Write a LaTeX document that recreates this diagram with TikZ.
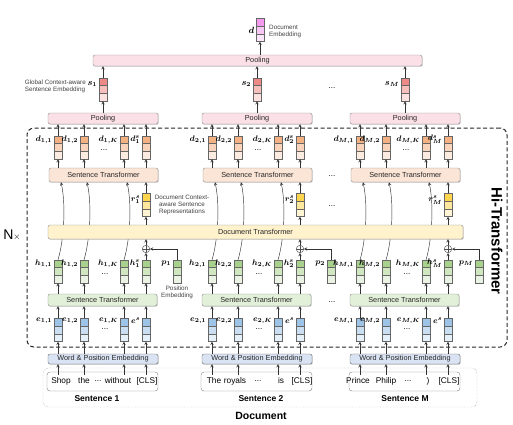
\documentclass[tikz,border=0pt]{standalone}
\usepackage{amsmath,amssymb}
\usepackage{fontspec}
\setmainfont{Liberation Sans}
\usepackage{tikz}
\usetikzlibrary{calc,shadows}
\definecolor{vecpink}{HTML}{F49AEE}
\definecolor{vecred}{HTML}{EE8A86}
\definecolor{vecorange}{HTML}{F4B183}
\definecolor{vecyellow}{HTML}{FFD54F}
\definecolor{vecgreen}{HTML}{A9D18E}
\definecolor{vecblue}{HTML}{9DC3E6}
\definecolor{poolbg}{HTML}{FBE0E8}
\definecolor{stbg}{HTML}{FBE5D6}
\definecolor{docbg}{HTML}{FFF2CC}
\definecolor{lstbg}{HTML}{E2F0D9}
\definecolor{wpebg}{HTML}{DAE3F3}

\begin{document}
\begin{tikzpicture}[x=1pt, y=-1pt,
    vec/.style={draw=black!60, line width=0.4pt, minimum width=7.5pt, minimum height=23pt, inner sep=0pt, fill=#1!25,
      path picture={
        \coordinate (nw) at (path picture bounding box.north west);
        \coordinate (ne) at (path picture bounding box.north east);
        \coordinate (sw) at (path picture bounding box.south west);
        \coordinate (se) at (path picture bounding box.south east);
        \fill[#1] (nw) rectangle ($(ne)!0.333!(se)$);
        \fill[#1!55] ($(nw)!0.333!(sw)$) rectangle ($(ne)!0.667!(se)$);
        \draw[black!60, line width=0.4pt] ($(nw)!0.333!(sw)$) -- ($(ne)!0.333!(se)$)
          ($(nw)!0.667!(sw)$) -- ($(ne)!0.667!(se)$);}},
    box/.style={draw=black!45, rounded corners=2pt, inner sep=0pt, text=black!85,
      font=\fontsize{7.3}{8}\selectfont,
      drop shadow={shadow xshift=0.7pt, shadow yshift=-0.7pt, fill=black!40, opacity=0.6}},
    lbl/.style={font=\footnotesize, inner sep=0.5pt},
    label distance=1.2pt,
    note/.style={font=\fontsize{6.3}{7}\selectfont, align=center, inner sep=0pt, text=black!75},
    word/.style={font=\fontsize{8.3}{9}\selectfont, inner sep=0pt},
    dotsnode/.style={font=\fontsize{8}{8}\selectfont, inner sep=0pt},
    arr/.style={->, >=stealth, line width=0.45pt, black!80},
    plusnode/.style={circle, draw=black!70, fill=white, line width=0.45pt, minimum size=7.5pt, inner sep=0pt,
      path picture={\draw[black!70, line width=0.45pt] (path picture bounding box.north) -- (path picture bounding box.south)
        (path picture bounding box.west) -- (path picture bounding box.east);}}
  ]
  \useasboundingbox (0,0) rectangle (513,424);

  % Hi-Transformer frame
  \node[draw=black!85, line width=1pt, dash pattern=on 4pt off 2.5pt, rounded corners=7pt,
    minimum width=480pt, minimum height=219pt] (hibox) at (267,237.5) {};
  \node[font=\bfseries\fontsize{15}{15}\selectfont, rotate=-90] (hilbl) at (497,241) {Hi-Transformer};
  \node[font=\fontsize{14}{14}\selectfont, inner sep=0pt] (nx) at (12,235) {N{\fontsize{9}{9}\selectfont$\times$}};

  % document embedding
  \node[box, fill=poolbg, minimum width=329pt, minimum height=11pt] (pool) at (257.5,60.5) {Pooling};
  \node[vec=vecpink, label={[lbl, font=\small]left:$\boldsymbol{d}$}] (dvec) at (260,30) {};
  \node[note, align=left, anchor=west] (docemb) at (269,31) {Document\\Embedding};
  \draw[arr] (pool.north -| dvec) -- (dvec.south);
  \node[note, align=left, anchor=east] (globnote) at (86,86) {Global Context-aware\\Sentence Embedding};
  \node[dotsnode] (sdots) at (332,88) {...};

  % one column per sentence
  \foreach \b/\dx/\m/\sx in {1/0/1/97, 2/154/2/261, 3/302/M/405}{
    \node[box, fill=poolbg, minimum width=110pt, minimum height=11pt] (pool-\b) at (103+\dx,118.5) {Pooling};
    \node[vec=vecred, label={[lbl, font=\small, yshift=6pt]left:$\boldsymbol{s_{\m}}$}] (s-\b) at (103+\dx,89.5) {};
    \draw[arr] (pool-\b.north) -- (s-\b.south);
    \draw[arr] (s-\b.north) -- (s-\b.north |- pool.south);

    \node[box, fill=stbg, minimum width=109pt, minimum height=14pt] (st-\b) at (103.5+\dx,175) {Sentence Transformer};
    \node[vec=vecyellow, label={[lbl, yshift=5pt]left:$\boldsymbol{r^{s}_{\m}}$}] (r-\b) at (146+\dx,205) {};
    \node[box, fill=lstbg, minimum width=109pt, minimum height=12pt] (lst-\b) at (102.5+\dx,300) {Sentence Transformer};
    \node[box, fill=wpebg, draw=black!60, minimum width=110pt, minimum height=10pt] (wpe-\b) at (103+\dx,359) {Word \& Position Embedding};
    \node[plusnode] (plus-\b) at (146+\dx,249) {};
    \node[vec=vecgreen, label={[lbl, yshift=8pt]left:$\boldsymbol{p_{\m}}$}] (p-\b) at (177+\dx,271.5) {};

    \foreach \i/\xx/\k in {1/58/1, 2/84/2, 3/124/K}{
      \node[vec=vecorange, label={[lbl, yshift=8pt]left:$\boldsymbol{d_{\m,\k}}$}] (d-\b-\i) at (\xx+\dx,147.5) {};
      \node[vec=vecgreen, label={[lbl, yshift=8pt]left:$\boldsymbol{h_{\m,\k}}$}] (h-\b-\i) at (\xx+\dx,271.5) {};
      \node[vec=vecblue, label={[lbl, yshift=9pt]left:$\boldsymbol{e_{\m,\k}}$}] (e-\b-\i) at (\xx+\dx,330) {};
      \draw[arr] (h-\b-\i.north) .. controls +(6,-20) and +(5,23) .. ($(h-\b-\i.north |- st-\b.south)+(3,0)$);
    }
    \node[vec=vecorange, label={[lbl, yshift=8pt]left:$\boldsymbol{d^{s}_{\m}}$}] (d-\b-4) at (146+\dx,147.5) {};
    \node[vec=vecgreen, label={[lbl, yshift=8pt]left:$\boldsymbol{h^{s}_{\m}}$}] (h-\b-4) at (146+\dx,271.5) {};
    \node[vec=vecblue, label={[lbl, yshift=9pt]left:$\boldsymbol{e^{s}}$}] (e-\b-4) at (146+\dx,330) {};
    \node[dotsnode] (ddots-\b) at (104+\dx,150) {...};
    \node[dotsnode] (hdots-\b) at (105+\dx,274) {...};
    \node[dotsnode] (edots-\b) at (105+\dx,329) {...};

    \node[draw=black!50, rounded corners=3pt, fill=white, minimum width=111pt, minimum height=19pt] (sent-\b) at (102.5+\dx,381.5) {};
    \node[font=\bfseries\fontsize{8.5}{9}\selectfont] (sentlbl-\b) at (\sx,399) {Sentence \m};

    \foreach \i in {1,...,4}{
      \draw[arr] (d-\b-\i.north) -- (d-\b-\i.north |- pool-\b.south);
      \draw[arr] (d-\b-\i.south |- st-\b.north) -- (d-\b-\i.south);
      \draw[arr] (h-\b-\i.south |- lst-\b.north) -- (h-\b-\i.south);
      \draw[arr] (e-\b-\i.north) -- (e-\b-\i.north |- lst-\b.south);
      \draw[arr] (e-\b-\i.south |- wpe-\b.north) -- (e-\b-\i.south);
    }
    \draw[arr] (h-\b-4.north) -- (plus-\b.south);
    \draw[arr] (p-\b.north) |- (plus-\b.east);
  }
  \node[dotsnode] (stdots) at (332,176) {...};
  \node[dotsnode] (rdots) at (332,206) {...};
  \node[dotsnode] (lstdots) at (332,302) {...};

  % document transformer over the skip curves
  \node[box, fill=docbg, minimum width=415pt, minimum height=14pt] (doc) at (255.5,232) {Document Transformer};
  \foreach \b in {1,2,3}{
    \draw[arr] (plus-\b.north) -- (plus-\b.north |- doc.south);
    \draw[arr] (r-\b.south |- doc.north) -- (r-\b.south);
    \draw[arr] (r-\b.north) -- (r-\b.north |- st-\b.south);
  }
  \node[note] (ctxnote) at (182,205) {Document Context-\\aware Sentence\\Representations};
  \node[note] (posnote) at (177,292) {Position\\Embedding};

  % input sentences
  \node[draw=black!45, densely dotted, rounded corners=5pt, minimum width=434pt, minimum height=39pt] (docbox) at (260,387.5) {};
  \node[font=\bfseries\fontsize{10.5}{11}\selectfont] (doclbl) at (261,416) {Document};
  \node[word] (w-1-1) at (61,381) {Shop};
  \node[word] (w-1-2) at (84,381) {the};
  \node[word] (w-1-d) at (98,381) {...};
  \node[word] (w-1-3) at (118,381) {without};
  \node[word] (w-1-4) at (147,381) {[CLS]};
  \node[word] (w-2-1) at (214,381) {The};
  \node[word] (w-2-2) at (235,381) {royals};
  \node[word] (w-2-d) at (258,381) {...};
  \node[word] (w-2-3) at (281,381) {is};
  \node[word] (w-2-4) at (302,381) {[CLS]};
  \node[word] (w-3-1) at (358,381) {Prince};
  \node[word] (w-3-2) at (386,381) {Philip};
  \node[word] (w-3-d) at (408,381) {...};
  \node[word] (w-3-3) at (428,381) {)};
  \node[word] (w-3-4) at (449,381) {[CLS]};
  \foreach \b in {1,2,3}{
    \foreach \i in {1,...,4}{
      \draw[arr] ($(e-\b-\i |- sent-\b.north)+(0,3)$) -- (e-\b-\i |- wpe-\b.south);
    }
  }
\end{tikzpicture}
\end{document}
